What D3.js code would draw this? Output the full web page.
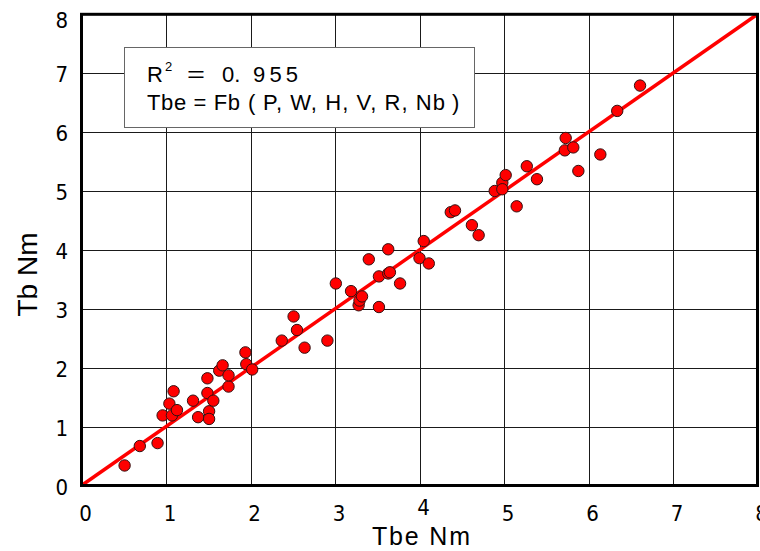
<!DOCTYPE html>
<html>
<head>
<meta charset="utf-8">
<script src="https://cdn.jsdelivr.net/npm/d3@7"></script>
<style>
  html, body { margin: 0; padding: 0; background: #fff; }
  svg { display: block; }
  text { font-family: "Liberation Sans", Arial, sans-serif; fill: #000; }
  .tick { font-family: "Liberation Sans Narrow", "DejaVu Sans Condensed", "Liberation Sans", sans-serif; }
</style>
</head>
<body>
<svg id="chart" width="760" height="551"></svg>
<script>
// Measured braking torque Tbe against the fitted model Tb (Nm)
const tbe = [
  0.51, 0.69, 0.90, 0.96, 1.04, 1.09, 1.07, 1.13, 1.32, 1.38,
  1.49, 1.49, 1.51, 1.51, 1.56, 1.63, 1.67, 1.74, 1.74, 1.94,
  1.95, 2.02, 2.37, 2.51, 2.55, 2.64, 2.91, 3.01, 3.19, 3.28,
  3.29, 3.32, 3.40, 3.52, 3.52, 3.63, 3.63, 3.65, 3.77, 4.05,
  4.00, 4.11, 4.37, 4.42, 4.62, 4.70, 4.89, 4.98, 4.98, 5.02,
  5.15, 5.27, 5.39, 5.72, 5.73, 5.82, 5.88, 6.14, 6.34, 6.61
];
const tb = [
  0.34, 0.67, 0.72, 1.19, 1.39, 1.60, 1.19, 1.28, 1.44, 1.16,
  1.82, 1.57, 1.26, 1.13, 1.44, 1.95, 2.04, 1.68, 1.87, 2.26,
  2.06, 1.97, 2.46, 2.87, 2.64, 2.34, 2.46, 3.43, 3.30, 3.06,
  3.14, 3.21, 3.84, 3.03, 3.55, 4.01, 3.60, 3.62, 3.43, 4.15,
  3.86, 3.77, 4.64, 4.67, 4.42, 4.25, 5.00, 5.14, 5.03, 5.27,
  4.74, 5.42, 5.20, 5.69, 5.90, 5.74, 5.34, 5.62, 6.36, 6.79
];
const xTicks = [0, 1, 2, 3, 4, 5, 6, 7, 8];
const yTicks = [0, 1, 2, 3, 4, 5, 6, 7, 8];
const fitLine = [[0, 0], [8, 8]];

const svg = d3.select("#chart");
const x = d3.scaleLinear().domain([0, 8]).range([81.5, 757.5]);
const y = d3.scaleLinear().domain([0, 8]).range([485.5, 14.3]);

// grid lines
const grid = svg.append("g").attr("stroke", "#1a1a1a").attr("stroke-width", 1);
grid.selectAll("line.v").data(xTicks.slice(1, -1)).join("line")
  .attr("x1", d => Math.round(x(d)) + 0.5).attr("x2", d => Math.round(x(d)) + 0.5)
  .attr("y1", y(8)).attr("y2", y(0));
grid.selectAll("line.h").data(yTicks.slice(1, -1)).join("line")
  .attr("y1", d => Math.round(y(d)) + 0.5).attr("y2", d => Math.round(y(d)) + 0.5)
  .attr("x1", x(0)).attr("x2", x(8));

// annotation box
const box = svg.append("g");
box.append("rect").attr("x", 124.5).attr("y", 47.5).attr("width", 350).attr("height", 80)
  .attr("fill", "#fff").attr("stroke", "#666").attr("stroke-width", 1);
const t1 = box.append("text").attr("y", 82).attr("font-size", 22);
t1.append("tspan").attr("x", 147).text("R");
t1.append("tspan").attr("x", 165).attr("dy", -11).attr("font-size", 13).text("2");
t1.append("tspan").attr("x", 187).attr("dy", 11).attr("textLength", 18).attr("lengthAdjust", "spacingAndGlyphs").text("=");
t1.append("tspan").attr("x", 222).text("0.");
t1.append("tspan").attr("x", 253).attr("textLength", 45).attr("lengthAdjust", "spacing").text("955");
const t2 = box.append("text").attr("y", 110).attr("font-size", 22);
t2.append("tspan").attr("x", 147).attr("textLength", 93).attr("lengthAdjust", "spacing").text("Tbe = Fb");
t2.append("tspan").attr("x", 248).text("(");
t2.append("tspan").attr("x", 263).attr("textLength", 182).attr("lengthAdjust", "spacing").text("P, W, H, V, R, Nb");
t2.append("tspan").attr("x", 452).text(")");

// fitted line y = x
svg.append("line")
  .attr("x1", x(fitLine[0][0])).attr("y1", y(fitLine[0][1]))
  .attr("x2", x(fitLine[1][0])).attr("y2", y(fitLine[1][1]))
  .attr("stroke", "#ff0000").attr("stroke-width", 3.5);

// data points
svg.append("g").selectAll("circle").data(tbe.map((v, i) => [v, tb[i]])).join("circle")
  .attr("cx", d => x(d[0])).attr("cy", d => y(d[1])).attr("r", 5.7)
  .attr("fill", "#ff0000").attr("stroke", "#331111").attr("stroke-width", 1);

// frame
svg.append("rect").attr("x", x(0)).attr("y", y(8))
  .attr("width", x(8) - x(0)).attr("height", y(0) - y(8))
  .attr("fill", "none").attr("stroke", "#000").attr("stroke-width", 3);

// tick labels
svg.append("g").selectAll("text").data(xTicks).join("text").attr("class", "tick")
  .attr("x", d => x(d) + 4).attr("y", d => d === 4 ? 515 : 521)
  .attr("text-anchor", "middle").attr("font-size", 22).text(d => d);
svg.append("g").selectAll("text").data(yTicks).join("text").attr("class", "tick")
  .attr("x", 68).attr("y", d => Math.max(y(d) + 9, 28))
  .attr("text-anchor", "end").attr("font-size", 22).text(d => d);

// axis titles
svg.append("text").attr("x", 421).attr("y", 545).attr("text-anchor", "middle")
  .attr("font-size", 25).attr("textLength", 98).attr("lengthAdjust", "spacing").text("Tbe Nm");
svg.append("text").attr("transform", "translate(37,274.5) rotate(-90)")
  .attr("text-anchor", "middle").attr("font-size", 28).text("Tb Nm");
</script>
</body>
</html>
